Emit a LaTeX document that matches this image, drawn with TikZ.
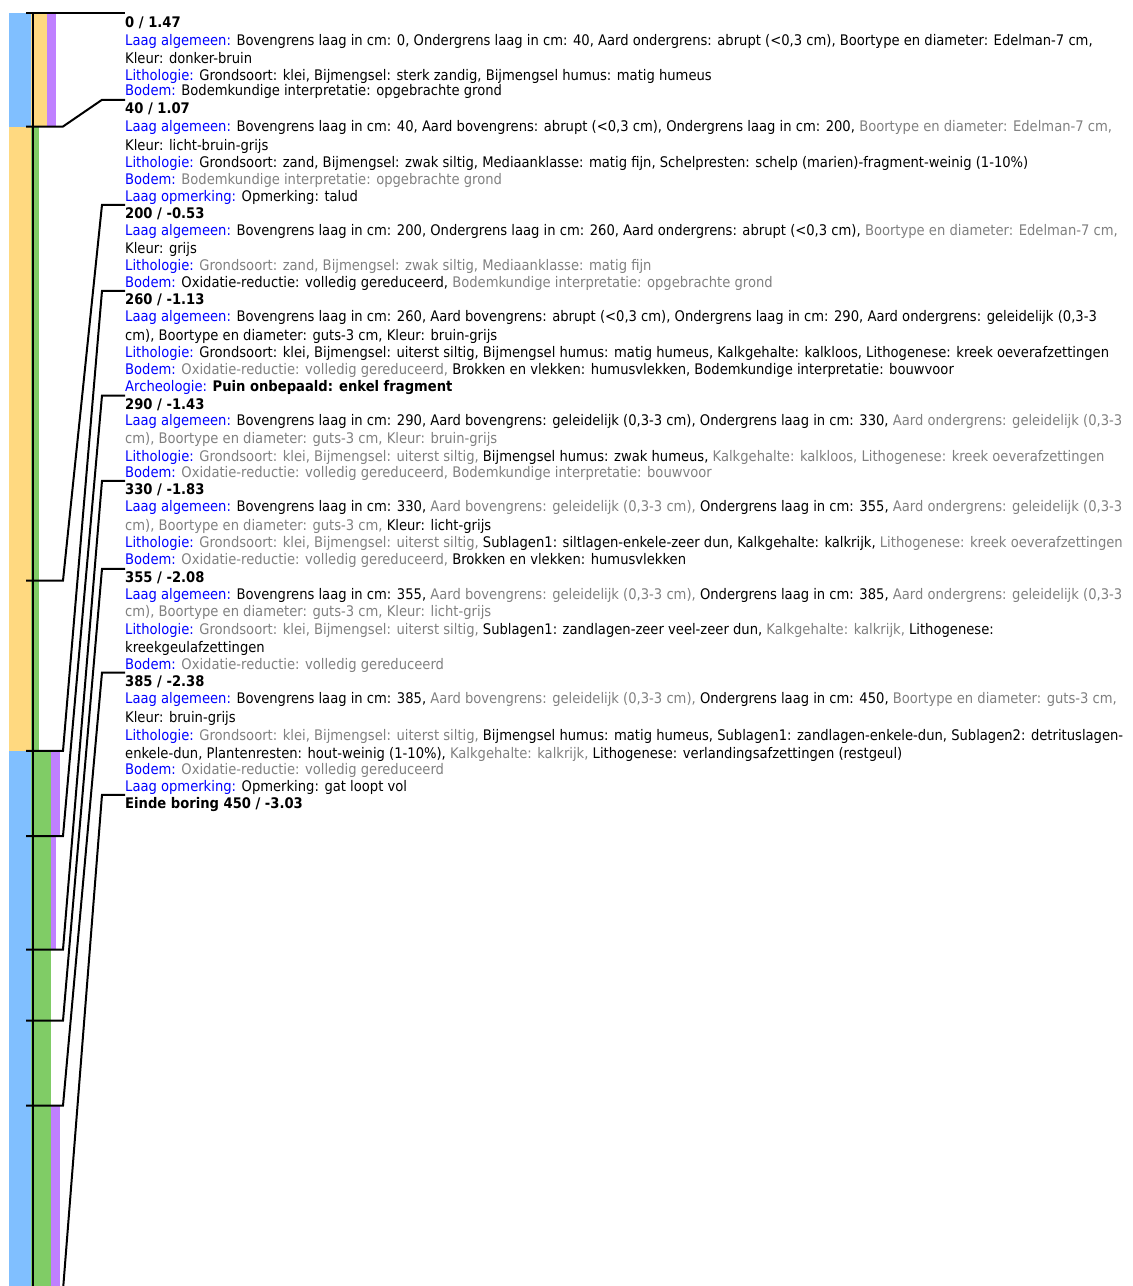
\documentclass[tikz,border=0pt]{standalone}
\usepackage{fontspec}
\setmainfont{DejaVu Sans Condensed}
\definecolor{cblue}{RGB}{128,191,255}
\definecolor{cyellow}{RGB}{255,217,128}
\definecolor{cpurple}{RGB}{191,128,255}
\definecolor{cgreen}{RGB}{128,204,102}
\definecolor{lblue}{RGB}{0,0,255}
\definecolor{tgray}{RGB}{128,128,128}
\newcommand\lab[1]{\textcolor{lblue}{#1}}
\newcommand\gry[1]{\textcolor{tgray}{#1}}
\tikzset{
  txt/.style={anchor=base west, inner sep=0pt, yshift=-0.5pt, font=\fontsize{14.6}{17}\selectfont},
  hd/.style={txt, font=\fontsize{14.6}{17}\selectfont\bfseries},
  conn/.style={line width=2pt, line join=miter},
  axis/.style={line width=2pt},
}
\begin{document}
\begin{tikzpicture}[x=1pt, y=-1pt]
\useasboundingbox (0,0) rectangle (1133,1286);
\clip (0,0) rectangle (1133,1286);
% ---- soil column ----
% 0-40
\fill[cblue]   (9,13) rectangle (31,126.5);
\fill[cyellow] (31,13) rectangle (47,126.5);
\fill[cpurple] (47,13) rectangle (56,126.5);
% 40-260
\fill[cyellow] (9,126.5) rectangle (31,750.9);
\fill[cgreen]  (31,126.5) rectangle (39,750.9);
% 260-290
\fill[cblue]   (9,750.9) rectangle (31,836);
\fill[cgreen]  (31,750.9) rectangle (51,836);
\fill[cpurple] (51,750.9) rectangle (60,836);
% 290-330
\fill[cblue]   (9,836) rectangle (31,949.5);
\fill[cgreen]  (31,836) rectangle (51,949.5);
\fill[cpurple] (51,836) rectangle (56,949.5);
% 330-385
\fill[cblue]   (9,949.5) rectangle (31,1105.6);
\fill[cgreen]  (31,949.5) rectangle (51,1105.6);
% 385-450
\fill[cblue]   (9,1105.6) rectangle (31,1290);
\fill[cgreen]  (31,1105.6) rectangle (51,1290);
\fill[cpurple] (51,1105.6) rectangle (60,1290);
% axis
\draw[axis] (32.5,13) -- (32.5,1290);

% ---- texts ----
\node[hd]  (t0)  at (125,27.2)  {0 / 1.47};
\node[txt] (t1)  at (125,44.5)  {\lab{Laag algemeen:} Bovengrens laag in cm: 0, Ondergrens laag in cm: 40, Aard ondergrens: abrupt (<0,3 cm), Boortype en diameter: Edelman-7 cm,};
\node[txt] (t2)  at (125,62.8)  {Kleur: donker-bruin};
\node[txt] (t3)  at (125,79.5)  {\lab{Lithologie:} Grondsoort: klei, Bijmengsel: sterk zandig, Bijmengsel humus: matig humeus};
\node[txt] (t4)  at (125,95.2)  {\lab{Bodem:} Bodemkundige interpretatie: opgebrachte grond};
\node[hd]  (t5)  at (125,112.8) {40 / 1.07};
\node[txt] (t6)  at (125,130.5) {\lab{Laag algemeen:} Bovengrens laag in cm: 40, Aard bovengrens: abrupt (<0,3 cm), Ondergrens laag in cm: 200, \gry{Boortype en diameter: Edelman-7 cm,}};
\node[txt] (t7)  at (125,149.5) {Kleur: licht-bruin-grijs};
\node[txt] (t8)  at (125,166.8) {\lab{Lithologie:} Grondsoort: zand, Bijmengsel: zwak siltig, Mediaanklasse: matig fijn, Schelpresten: schelp (marien)-fragment-weinig (1-10\%)};
\node[txt] (t9)  at (125,183.5) {\lab{Bodem:} \gry{Bodemkundige interpretatie: opgebrachte grond}};
\node[txt] (t10) at (125,201.2) {\lab{Laag opmerking:} Opmerking: talud};
\node[hd]  (t11) at (125,217.8) {200 / -0.53};
\node[txt] (t12) at (125,234.5) {\lab{Laag algemeen:} Bovengrens laag in cm: 200, Ondergrens laag in cm: 260, Aard ondergrens: abrupt (<0,3 cm), \gry{Boortype en diameter: Edelman-7 cm,}};
\node[txt] (t13) at (125,252.8) {Kleur: grijs};
\node[txt] (t14) at (125,270.2) {\lab{Lithologie:} \gry{Grondsoort: zand, Bijmengsel: zwak siltig, Mediaanklasse: matig fijn}};
\node[txt] (t15) at (125,286.8) {\lab{Bodem:} Oxidatie-reductie: volledig gereduceerd, \gry{Bodemkundige interpretatie: opgebrachte grond}};
\node[hd]  (t16) at (125,303.8) {260 / -1.13};
\node[txt] (t17) at (125,321.2) {\lab{Laag algemeen:} Bovengrens laag in cm: 260, Aard bovengrens: abrupt (<0,3 cm), Ondergrens laag in cm: 290, Aard ondergrens: geleidelijk (0,3-3};
\node[txt] (t18) at (125,339.5) {cm), Boortype en diameter: guts-3 cm, Kleur: bruin-grijs};
\node[txt] (t19) at (125,356.8) {\lab{Lithologie:} Grondsoort: klei, Bijmengsel: uiterst siltig, Bijmengsel humus: matig humeus, Kalkgehalte: kalkloos, Lithogenese: kreek oeverafzettingen};
\node[txt] (t20) at (125,373.5) {\lab{Bodem:} \gry{Oxidatie-reductie: volledig gereduceerd,} Brokken en vlekken: humusvlekken, Bodemkundige interpretatie: bouwvoor};
\node[txt] (t21) at (125,391.2) {\lab{Archeologie:} \textbf{Puin onbepaald: enkel fragment}};
\node[hd]  (t22) at (125,408.5) {290 / -1.43};
\node[txt] (t23) at (125,424.5) {\lab{Laag algemeen:} Bovengrens laag in cm: 290, Aard bovengrens: geleidelijk (0,3-3 cm), Ondergrens laag in cm: 330, \gry{Aard ondergrens: geleidelijk (0,3-3}};
\node[txt] (t24) at (125,442.8) {\gry{cm), Boortype en diameter: guts-3 cm, Kleur: bruin-grijs}};
\node[txt] (t25) at (125,460.5) {\lab{Lithologie:} \gry{Grondsoort: klei, Bijmengsel: uiterst siltig,} Bijmengsel humus: zwak humeus, \gry{Kalkgehalte: kalkloos, Lithogenese: kreek oeverafzettingen}};
\node[txt] (t26) at (125,477.2) {\lab{Bodem:} \gry{Oxidatie-reductie: volledig gereduceerd, Bodemkundige interpretatie: bouwvoor}};
\node[hd]  (t27) at (125,493.8) {330 / -1.83};
\node[txt] (t28) at (125,511.2) {\lab{Laag algemeen:} Bovengrens laag in cm: 330, \gry{Aard bovengrens: geleidelijk (0,3-3 cm),} Ondergrens laag in cm: 355, \gry{Aard ondergrens: geleidelijk (0,3-3}};
\node[txt] (t29) at (125,529.5) {\gry{cm), Boortype en diameter: guts-3 cm,} Kleur: licht-grijs};
\node[txt] (t30) at (125,546.8) {\lab{Lithologie:} \gry{Grondsoort: klei, Bijmengsel: uiterst siltig,} Sublagen1: siltlagen-enkele-zeer dun, Kalkgehalte: kalkrijk, \gry{Lithogenese: kreek oeverafzettingen}};
\node[txt] (t31) at (125,563.5) {\lab{Bodem:} \gry{Oxidatie-reductie: volledig gereduceerd,} Brokken en vlekken: humusvlekken};
\node[hd]  (t32) at (125,581.8) {355 / -2.08};
\node[txt] (t33) at (125,598.5) {\lab{Laag algemeen:} Bovengrens laag in cm: 355, \gry{Aard bovengrens: geleidelijk (0,3-3 cm),} Ondergrens laag in cm: 385, \gry{Aard ondergrens: geleidelijk (0,3-3}};
\node[txt] (t34) at (125,616.2) {\gry{cm), Boortype en diameter: guts-3 cm, Kleur: licht-grijs}};
\node[txt] (t35) at (125,633.8) {\lab{Lithologie:} \gry{Grondsoort: klei, Bijmengsel: uiterst siltig,} Sublagen1: zandlagen-zeer veel-zeer dun, \gry{Kalkgehalte: kalkrijk,} Lithogenese:};
\node[txt] (t36) at (125,652.2) {kreekgeulafzettingen};
\node[txt] (t37) at (125,668.8) {\lab{Bodem:} \gry{Oxidatie-reductie: volledig gereduceerd}};
\node[hd]  (t38) at (125,685.5) {385 / -2.38};
\node[txt] (t39) at (125,702.8) {\lab{Laag algemeen:} Bovengrens laag in cm: 385, \gry{Aard bovengrens: geleidelijk (0,3-3 cm),} Ondergrens laag in cm: 450, \gry{Boortype en diameter: guts-3 cm,}};
\node[txt] (t40) at (125,722.2) {Kleur: bruin-grijs};
\node[txt] (t41) at (125,739.5) {\lab{Lithologie:} \gry{Grondsoort: klei, Bijmengsel: uiterst siltig,} Bijmengsel humus: matig humeus, Sublagen1: zandlagen-enkele-dun, Sublagen2: detrituslagen-};
\node[txt] (t42) at (125,757.8) {enkele-dun, Plantenresten: hout-weinig (1-10\%), \gry{Kalkgehalte: kalkrijk,} Lithogenese: verlandingsafzettingen (restgeul)};
\node[txt] (t43) at (125,773.8) {\lab{Bodem:} \gry{Oxidatie-reductie: volledig gereduceerd}};
\node[txt] (t44) at (125,791.2) {\lab{Laag opmerking:} Opmerking: gat loopt vol};
\node[hd]  (t45) at (125,807.8) {Einde boring 450 / -3.03};

% ---- boundary ticks and connectors ----
\foreach \n/\yb/\yl in {40/126.5/99.8, 200/580.6/204.8, 260/750.9/290.8, 290/836/395.5,
                        330/949.5/480.8, 355/1020.5/568.8, 385/1105.6/672.5, 450/1290/794.8}{
  \coordinate (k\n) at (26,\yb);
  \coordinate (b\n) at (63,\yb);
  \coordinate (j\n) at (102,\yl);
  \coordinate (e\n) at (125,\yl);
  \draw[conn] (k\n) -- (b\n) -- (j\n) -- (e\n);
}
\coordinate (k0) at (26,13);
\coordinate (e0) at (125,13);
\draw[conn] (k0) -- (e0);
\end{tikzpicture}
\end{document}
